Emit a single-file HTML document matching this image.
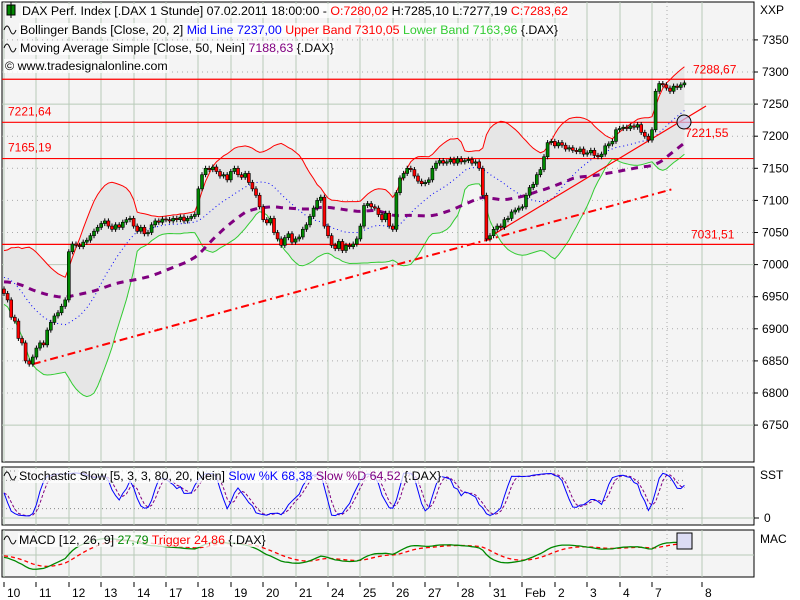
<!DOCTYPE html>
<html><head><meta charset="utf-8"><style>
html,body{margin:0;padding:0;background:#fff;}
svg{display:block;font-family:"Liberation Sans",Arial,sans-serif;}
</style></head><body>
<svg id="c" width="800" height="600" viewBox="0 0 800 600"></svg>
<script>
const history = [6950,6955,6960,6958,6965,6970,6968,6972,6975,6970,6965,6968,6972,6978,6975,6970,6966,6962,6965,6970,
6968,6972,6975,6980,6978,6975,6970,6968,6965,6962,
6960,6975,6990,7005,7015,7020,7012,7000,6995,6985,6980,6975,6968,6965,6960,6958,6955,6960,6965,6962];
const closes = [6955,6945,6918,6912,6885,6878,6850,6845,6856,6870,6878,6875,6898,6910,6920,6925,6935,6945,
7020,7032,7030,7028,7035,7038,7045,7052,7058,7064,7068,7060,7055,7062,7058,7066,7070,7072,7060,7052,
7058,7048,7050,7062,7068,7066,7071,7070,7068,7072,7070,7074,7068,7072,7075,7078,7118,7140,7150,7148,
7152,7145,7138,7140,7132,7145,7150,7140,7136,7142,7128,7118,7108,7090,7070,7065,7072,7050,7040,7030,
7042,7048,7035,7040,7043,7055,7062,7075,7088,7100,7105,7060,7045,7030,7025,7036,7022,7030,7028,7032,
7040,7060,7092,7095,7090,7088,7078,7070,7080,7060,7055,7112,7135,7142,7150,7148,7138,7130,7126,7128,
7132,7150,7158,7162,7158,7160,7164,7158,7165,7160,7162,7164,7158,7160,7150,7108,7040,7045,7055,7060,
7058,7070,7072,7082,7085,7088,7090,7108,7120,7125,7140,7148,7168,7190,7192,7185,7190,7186,7180,7182,
7178,7176,7180,7172,7174,7178,7170,7168,7172,7185,7188,7192,7210,7212,7214,7212,7216,7214,7218,7206,
7200,7194,7210,7270,7282,7280,7275,7270,7278,7276,7280,7283];
const firstOpen = 6962;
const priceTicks = [7350,7300,7250,7200,7150,7100,7050,7000,6950,6900,6850,6800,6750];
const dayLabels = ["10","11","12","13","14","17","18","19","20","21","24","25","26","27","28","31","Feb","2","3","4","7","8"];
const dayBarIndex = [1,10,19,28,37,46,55,64,73,82,91,100,109,118,127,136,145,154,163,172,181,195];
const hLevels = [7288.67,7221.64,7165.19,7031.51];
const hLevelLabels = ["7288,67","7221,64","7165,19","7031,51"];
const dashTrend = [[8,6845],[186,7118]];
const solidTrend = [[136,7047],[195,7247]];
const trendLabel = "7221,55";

const NS="http://www.w3.org/2000/svg", svg=document.getElementById('c');
function el(t,a,p){const e=document.createElementNS(NS,t);for(const k in a)e.setAttribute(k,a[k]);(p||svg).appendChild(e);return e;}
const bx=i=>4+i*3.6;
const py=v=>72+(7300-v)*0.642;
const sy=v=>518-v*0.47;
const my=v=>555-v*0.46;
const X0=2,X1=754;

const mp=el('rect',{x:X0,y:2,width:X1-X0,height:460,fill:'#f4f4f4',stroke:'#000','stroke-width':1});

const sp=el('rect',{x:X0,y:467,width:X1-X0,height:58,fill:'#f4f4f4',stroke:'#000'});

const mcp=el('rect',{x:X0,y:530,width:X1-X0,height:47,fill:'#f4f4f4',stroke:'#000'});


priceTicks.forEach(v=>{const y=py(v);
 el('line',{x1:X0,x2:X1,y1:y,y2:y,stroke:(v%250===0)?'#b8cab8':'#aaa','stroke-dasharray':(v%250===0)?'':'1,4'});
 el('line',{x1:X1,x2:X1+4,y1:y,y2:y,stroke:'#000'});
 const t=el('text',{x:762,y:y+4,'font-size':12,fill:'#000'});t.textContent=v;
 
});
dayBarIndex.forEach((bi,k)=>{const x=Math.round(bx(bi)-3.6);
 [[2,462],[467,525],[530,577]].forEach(r=>el('line',{x1:x,x2:x,y1:r[0],y2:r[1],stroke:'#b8cab8'}));
 el('line',{x1:x,x2:x,y1:582,y2:587,stroke:'#000'});
 const t=el('text',{x:x+3,y:597,'font-size':12});t.textContent=dayLabels[k];
 
});
[[2,462],[467,525],[530,577]].forEach(r=>el('line',{x1:667,x2:667,y1:r[0],y2:r[1],stroke:'#aaa','stroke-dasharray':'1,3'}));
[[471],[480.4],[508.6]].forEach(a=>el('line',{x1:X0,x2:686,y1:a[0],y2:a[0],stroke:'#888','stroke-dasharray':'1,3'}));
el('line',{x1:X0,x2:X1,y1:518,y2:518,stroke:'#b8cab8'});
el('line',{x1:X0,x2:X1,y1:555,y2:555,stroke:'#b8cab8'});

const n=closes.length, H0=history.length, all=history.concat(closes);
function sma(a,p,i){let s=0,c=0;for(let j=Math.max(0,i-p+1);j<=i;j++){s+=a[j];c++;}return s/c;}
const mid=[],up=[],lo=[],ma50=[];
for(let i=0;i<n;i++){const g=i+H0;const m=sma(all,20,g);let s=0,c=0;for(let j=Math.max(0,g-19);j<=g;j++){s+=(all[j]-m)**2;c++;}
 const sd=Math.sqrt(s/c);mid.push(m);up.push(m+2*sd);lo.push(m-2*sd);ma50.push(sma(all,50,g));}
const band=el('path',{d:'M'+up.map((v,i)=>bx(i)+','+py(v)).join('L')+'L'+lo.map((v,i)=>bx(i)+','+py(v)).reverse().join('L')+'Z',fill:'#e6e6e6'});

function line(arr,f,attrs,name){const p=el('polyline',Object.assign({points:arr.map((v,i)=>bx(i)+','+f(v)).join(' '),fill:'none'},attrs));
 return p;}
line(up,py,{stroke:'#f00'},'bollinger-upper-band');
line(lo,py,{stroke:'#3c3'},'bollinger-lower-band');
line(mid,py,{stroke:'#00f','stroke-dasharray':'1,3'},'bollinger-mid-line');
line(ma50,py,{stroke:'#800080','stroke-width':3,'stroke-dasharray':'7,6'},'sma-50-line');

hLevels.forEach((v,k)=>{const y=py(v);
 const l=el('line',{x1:X0,x2:X1,y1:y,y2:y,stroke:'#f00','stroke-width':1.2});
 
});
[[693,py(hLevels[0])-6,0],[8,py(hLevels[1])-7,1],[8,py(hLevels[2])-7,2],[691,py(hLevels[3])-6,3]].forEach(a=>{
 const t=el('text',{x:a[0],y:a[1],'font-size':12,fill:'#f00'});t.textContent=hLevelLabels[a[2]];
 });

const dt=el('line',{x1:bx(dashTrend[0][0]),y1:py(dashTrend[0][1]),x2:bx(dashTrend[1][0]),y2:py(dashTrend[1][1]),stroke:'#f00','stroke-width':2,'stroke-dasharray':'8,4,2,4'});

const st=el('line',{x1:bx(solidTrend[0][0]),y1:py(solidTrend[0][1]),x2:bx(solidTrend[1][0]),y2:py(solidTrend[1][1]),stroke:'#f00','stroke-width':1.2});

const cir=el('circle',{cx:684,cy:122,r:7,fill:'#c8c8ee','fill-opacity':0.7,stroke:'#000'});

const tl=el('text',{x:685,y:137,'font-size':12,fill:'#f00'});tl.textContent=trendLabel;


const hiA=[],loA=[];
for(let i=0;i<all.length;i++){const o=i?all[i-1]:all[0],c=all[i];hiA.push(Math.max(o,c)+4);loA.push(Math.min(o,c)-4);}
for(let i=0;i<n;i++){const o=i?closes[i-1]:firstOpen,c=closes[i];
 const h=Math.max(o,c)+4,l=Math.min(o,c)-4;
 const x=bx(i);
 const w=el('line',{x1:x,x2:x,y1:py(h),y2:py(l),stroke:'#000'});
 
 const top=py(Math.max(o,c)),bh=Math.max(1,py(Math.min(o,c))-top);
 const b=el('rect',{x:x-1.5,y:top,width:3,height:bh,fill:c>=o?'#080':'#f00',stroke:'#000','stroke-width':0.6});
 
}

const rawK=[];for(let i=0;i<all.length;i++){let H=-1e9,L=1e9;for(let j=Math.max(0,i-4);j<=i;j++){H=Math.max(H,hiA[j]);L=Math.min(L,loA[j]);}
 rawK.push(H>L?100*(all[i]-L)/(H-L):50);}
const kA=rawK.map((v,i)=>sma(rawK,3,i)),dA=kA.map((v,i)=>sma(kA,3,i));
const kS=kA.slice(H0),dS=dA.slice(H0);
line(dS,sy,{stroke:'#800080','stroke-dasharray':'3,2'},'stoch-slow-d');
line(kS,sy,{stroke:'#00f'},'stoch-slow-k');

function ema(a,p){const k=2/(p+1),r=[a[0]];for(let i=1;i<a.length;i++)r.push(a[i]*k+r[i-1]*(1-k));return r;}
const e12=ema(all,12),e26=ema(all,26),macdA=e12.map((v,i)=>v-e26[i]),trigA=ema(macdA,9);
line(trigA.slice(H0),my,{stroke:'#f00','stroke-dasharray':'4,3','stroke-width':1.3},'macd-trigger');
line(macdA.slice(H0),my,{stroke:'#080','stroke-width':1.3},'macd-line');
const mb=el('rect',{x:677,y:533,width:15,height:16,fill:'#dcdcf4',stroke:'#000'});


[['XXP',760,14],['SST',760,479],['MAC',760,543],['0',764,522]].forEach(a=>{const t=el('text',{x:a[1],y:a[2],'font-size':12});t.textContent=a[0];
 });
el('line',{x1:754,x2:759,y1:518,y2:518,stroke:'#000'});

function bg(t){const b=t.getBBox();const r=el('rect',{x:b.x-1,y:b.y,width:b.width+2,height:b.height,fill:'#fff','fill-opacity':0.75});svg.insertBefore(r,t);}
function legend(x,y,parts,name){const t=el('text',{x:x,y:y,'font-size':12.4});parts.forEach(p=>{const s=el('tspan',{fill:p[1]},t);s.textContent=p[0];});
 bg(t);return t;}
function wave(x,y){el('path',{d:`M${x},${y}q3,-8 6,0t6,0`,fill:'none',stroke:'#000'});}
legend(22,15,[['DAX Perf. Index [.DAX  1 Stunde] 07.02.2011 18:00:00 - ','#000'],['O:7280,02 ','#f00'],['H:7285,10 L:7277,19 ','#000'],['C:7283,62','#f00']],'title-legend');
const ic=el('rect',{x:7,y:5,width:8,height:10,fill:'#080',stroke:'#000'});
el('line',{x1:11,x2:11,y1:2,y2:18,stroke:'#000'});
legend(20,34,[['Bollinger Bands [Close, 20, 2] ','#000'],['Mid Line 7237,00 ','#00f'],['Upper Band 7310,05 ','#f00'],['Lower Band 7163,96 ','#3c3'],['{.DAX}','#000']],'bollinger-legend');wave(4,30);
legend(20,52,[['Moving Average Simple [Close, 50, Nein] ','#000'],['7188,63 ','#800080'],['{.DAX}','#000']],'sma-legend');wave(4,48);
legend(5,70,[['© www.tradesignalonline.com','#000']],'copyright');
legend(19,480,[['Stochastic Slow [5, 3, 3, 80, 20, Nein] ','#000'],['Slow %K 68,38 ','#00f'],['Slow %D 64,52 ','#800080'],['{.DAX}','#000']],'stochastic-legend');wave(4,476);
legend(19,544,[['MACD [12, 26, 9] ','#000'],['27,79 ','#080'],['Trigger 24,86 ','#f00'],['{.DAX}','#000']],'macd-legend');wave(4,540);
</script>
</body></html>
